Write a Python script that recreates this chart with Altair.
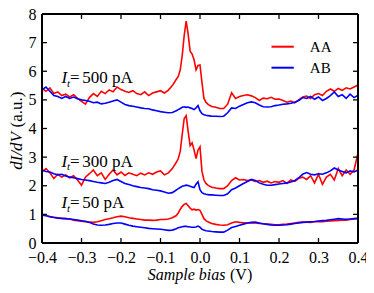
import altair as alt
import pandas as pd

# ---- data ----
bias = [
    -0.40, -0.39, -0.38, -0.37, -0.36, -0.35, -0.34, -0.33, -0.32, -0.31,
    -0.30, -0.29, -0.28, -0.27, -0.26, -0.25, -0.24, -0.23, -0.22, -0.21,
    -0.20, -0.19, -0.18, -0.17, -0.16, -0.15, -0.14, -0.13, -0.12, -0.11,
    -0.10, -0.09, -0.08, -0.07, -0.06,
    -0.055, -0.05, -0.045, -0.04, -0.035, -0.03, -0.025, -0.02, -0.015, -0.01,
    -0.005, 0.0, 0.005, 0.01, 0.015, 0.02, 0.025, 0.03,
    0.04, 0.05, 0.06, 0.07, 0.08, 0.09, 0.10, 0.11, 0.12, 0.13,
    0.14, 0.15, 0.16, 0.17, 0.18, 0.19, 0.20, 0.21, 0.22, 0.23,
    0.24, 0.25, 0.26, 0.27, 0.28, 0.29, 0.30, 0.31, 0.32, 0.33,
    0.34, 0.35, 0.36, 0.37, 0.38, 0.39, 0.40,
]

aa_500 = [
    5.40, 5.30, 5.42, 5.22, 5.28, 5.15, 5.20, 5.10, 5.18, 5.05,
    4.95, 4.85, 5.08, 5.22, 5.12, 5.30, 5.22, 5.35, 5.28, 5.45,
    5.36, 5.30, 5.26, 5.32, 5.22, 5.18, 5.28, 5.15, 5.24, 5.28,
    5.32, 5.24, 5.34, 5.50, 5.72,
    5.82, 6.05, 6.55, 7.25, 7.75, 7.30, 6.70, 6.60, 6.40, 6.05,
    6.20, 6.22, 5.60, 5.05, 4.92, 4.85, 4.80, 4.77,
    4.74, 4.70, 4.70, 4.85, 5.25, 5.05, 5.12, 5.15, 5.18, 5.14,
    5.08, 4.98, 5.06, 5.04, 5.09, 5.02, 5.03, 4.98, 4.92, 4.96,
    4.90, 5.00, 5.10, 5.13, 5.05, 5.18, 5.22, 5.15, 5.30, 5.38,
    5.30, 5.40, 5.33, 5.42, 5.38, 5.45, 5.52,
]
ab_500 = [
    5.35, 5.45, 5.30, 5.15, 5.12, 5.05, 5.12, 5.05, 5.10, 5.04,
    5.00, 4.98, 4.95, 4.90, 4.92, 4.86, 4.88, 4.92, 4.96, 5.00,
    4.92, 4.84, 4.80, 4.78, 4.75, 4.72, 4.70, 4.69, 4.65, 4.62,
    4.59, 4.57, 4.55, 4.56, 4.62,
    4.66, 4.70, 4.74, 4.76, 4.74, 4.75, 4.72, 4.70, 4.66, 4.72,
    4.80, 4.62, 4.52, 4.48, 4.46, 4.45, 4.44, 4.43,
    4.43, 4.42, 4.43, 4.55, 4.72, 4.70, 4.78, 4.84, 4.90, 4.93,
    4.90, 4.82, 4.76, 4.75, 4.76, 4.80, 4.82, 4.85, 4.86, 4.88,
    4.92, 4.98, 5.08, 5.05, 5.12, 5.02, 5.10, 4.98, 5.05, 5.15,
    5.28, 5.12, 5.18, 5.05, 5.20, 5.08, 5.16,
]
aa_300 = [
    2.48, 2.60, 2.45, 2.25, 2.40, 2.30, 2.38, 2.28, 2.35, 2.20,
    2.02, 2.30, 2.42, 2.55, 2.35, 2.45, 2.22, 2.40, 2.55, 2.38,
    2.48, 2.36, 2.45, 2.40, 2.35, 2.44, 2.38, 2.45, 2.40, 2.48,
    2.52, 2.38, 2.45, 2.60, 2.82,
    2.95, 3.20, 3.80, 4.35, 4.45, 3.90, 3.40, 3.50, 3.25, 2.95,
    3.25, 3.36, 2.50, 2.20, 2.08, 2.02, 1.98, 1.95,
    1.92, 1.90, 1.90, 2.00, 2.18, 2.28, 2.20, 2.22, 2.18, 2.20,
    2.15, 2.18, 2.12, 2.16, 2.10, 2.15, 2.12, 2.18, 2.08, 2.20,
    2.15, 2.26, 2.30, 2.22, 2.35, 2.10, 2.40, 2.05, 2.30, 2.40,
    2.20, 2.60, 2.35, 2.55, 2.40, 2.55, 3.15,
]
ab_300 = [
    2.55, 2.50, 2.48, 2.42, 2.38, 2.40, 2.34, 2.30, 2.28, 2.25,
    2.22, 2.20, 2.18, 2.15, 2.12, 2.10, 2.08, 2.12, 2.18, 2.22,
    2.15, 2.08, 2.04, 2.00, 1.97, 1.94, 1.92, 1.90, 1.86, 1.84,
    1.82, 1.78, 1.74, 1.76, 1.85,
    1.90, 1.94, 1.98, 2.00, 2.02, 2.01, 1.98, 1.96, 1.94, 2.05,
    2.14, 1.86, 1.76, 1.72, 1.70, 1.69, 1.68, 1.68,
    1.67, 1.66, 1.66, 1.72, 1.86, 1.92, 2.00, 2.08, 2.15, 2.22,
    2.18, 2.10, 2.05, 2.02, 2.02, 2.04, 2.06, 2.08, 2.10, 2.13,
    2.18, 2.28, 2.40, 2.46, 2.40, 2.38, 2.42, 2.40, 2.45, 2.52,
    2.62, 2.55, 2.50, 2.45, 2.52, 2.48, 2.55,
]
aa_50 = [
    0.97, 0.98, 0.92, 0.90, 0.88, 0.86, 0.85, 0.84, 0.80, 0.78,
    0.76, 0.74, 0.73, 0.72, 0.74, 0.78, 0.82, 0.85, 0.88, 0.92,
    0.94, 0.92, 0.88, 0.86, 0.84, 0.82, 0.80, 0.80, 0.79, 0.80,
    0.82, 0.82, 0.84, 0.88, 0.96,
    1.05, 1.18, 1.28, 1.35, 1.38, 1.30, 1.22, 1.16, 1.18, 1.15,
    1.17, 1.14, 1.00, 0.85, 0.78, 0.74, 0.71, 0.68,
    0.65, 0.63, 0.62, 0.64, 0.70, 0.74, 0.72, 0.71, 0.70, 0.70,
    0.70, 0.68, 0.67, 0.66, 0.65, 0.64, 0.64, 0.65, 0.66, 0.68,
    0.70, 0.72, 0.73, 0.73, 0.72, 0.74, 0.75, 0.74, 0.76, 0.77,
    0.78, 0.79, 0.80, 0.80, 0.82, 0.84, 0.86,
]
ab_50 = [
    0.97, 0.95, 0.92, 0.89, 0.87, 0.86, 0.85, 0.84, 0.82, 0.80,
    0.78, 0.76, 0.72, 0.66, 0.63, 0.62, 0.63, 0.65, 0.68, 0.70,
    0.70, 0.66, 0.62, 0.59, 0.57, 0.55, 0.53, 0.51, 0.50, 0.49,
    0.48, 0.46, 0.44, 0.45, 0.50,
    0.53, 0.55, 0.57, 0.58, 0.58, 0.57, 0.56, 0.55, 0.55, 0.56,
    0.59, 0.55, 0.48, 0.45, 0.43, 0.42, 0.41, 0.40,
    0.39, 0.38, 0.38, 0.45, 0.54, 0.58, 0.62, 0.66, 0.70, 0.72,
    0.73, 0.70, 0.67, 0.65, 0.63, 0.62, 0.62, 0.63, 0.64, 0.66,
    0.68, 0.70, 0.72, 0.73, 0.74, 0.75, 0.77, 0.78, 0.79, 0.81,
    0.83, 0.85, 0.84, 0.83, 0.84, 0.85, 0.86,
]

x_ticks = [-0.4, -0.3, -0.2, -0.1, 0.0, 0.1, 0.2, 0.3, 0.4]
y_ticks = [0, 1, 2, 3, 4, 5, 6, 7, 8]
stackings = ["AA", "AB"]
colors = ["#ff0000", "#0000ff"]
currents = ["500", "300", "50"]

series = [
    ("AA", "500", aa_500), ("AB", "500", ab_500),
    ("AA", "300", aa_300), ("AB", "300", ab_300),
    ("AA", "50", aa_50), ("AB", "50", ab_50),
]
rows = []
for stk, cur, vals in series:
    for b, v in zip(bias, vals):
        rows.append({"bias": b, "value": v, "stacking": stk, "trace": stk + cur})
df = pd.DataFrame(rows)

W, H = 316, 229
SERIF = "Liberation Serif"
FS = 16

xscale = alt.Scale(domain=[-0.4, 0.4], nice=False, zero=False)
yscale = alt.Scale(domain=[0, 8], nice=False)

xaxis = alt.Axis(values=x_ticks, format=".1f", ticks=False, domain=False, grid=False,
                 labelFont=SERIF, labelFontSize=FS, labelColor="black",
                 labelPadding=6, title=None, labelFlush=False)
yaxis = alt.Axis(values=y_ticks, format="d", ticks=False, domain=False, grid=False,
                 labelFont=SERIF, labelFontSize=FS, labelColor="black",
                 labelPadding=6, title=None, labelFlush=False)

lines = alt.Chart(df).mark_line(strokeWidth=1.6, clip=True).encode(
    x=alt.X("bias:Q", scale=xscale, axis=xaxis, title=None),
    y=alt.Y("value:Q", scale=yscale, axis=yaxis, title=None),
    color=alt.Color("stacking:N", scale=alt.Scale(domain=stackings, range=colors), legend=None),
    detail="trace:N",
    order="bias:Q",
)

xt = pd.DataFrame({"t": x_ticks})
yt = pd.DataFrame({"t": y_ticks})
TL = 5
tick_style = dict(color="black", strokeWidth=1.3)
bot = alt.Chart(xt).mark_rule(**tick_style).encode(
    x=alt.X("t:Q", scale=xscale, axis=xaxis, title=None), y=alt.value(H), y2=alt.value(H - TL))
top = alt.Chart(xt).mark_rule(**tick_style).encode(
    x=alt.X("t:Q", scale=xscale, axis=xaxis, title=None), y=alt.value(0), y2=alt.value(TL))
left = alt.Chart(yt).mark_rule(**tick_style).encode(
    y=alt.Y("t:Q", scale=yscale, axis=yaxis, title=None), x=alt.value(0), x2=alt.value(TL))
right = alt.Chart(yt).mark_rule(**tick_style).encode(
    y=alt.Y("t:Q", scale=yscale, axis=yaxis, title=None), x=alt.value(W - TL), x2=alt.value(W))

# frame
fr = dict(color="black", strokeWidth=2)
one = pd.DataFrame({"k": [0]})
frame = [
    alt.Chart(one).mark_rule(**fr).encode(x=alt.value(0), x2=alt.value(W), y=alt.value(0)),
    alt.Chart(one).mark_rule(**fr).encode(x=alt.value(0), x2=alt.value(W), y=alt.value(H)),
    alt.Chart(one).mark_rule(**fr).encode(x=alt.value(0), y=alt.value(0), y2=alt.value(H)),
    alt.Chart(one).mark_rule(**fr).encode(x=alt.value(W), y=alt.value(0), y2=alt.value(H)),
]


def txt(s, x, y, size=FS, style="normal", align="left", angle=0, color="black"):
    return alt.Chart(pd.DataFrame({"s": [s]})).mark_text(
        font=SERIF, fontSize=size, fontStyle=style, align=align, baseline="alphabetic",
        angle=angle, color=color,
    ).encode(text="s:N", x=alt.value(x), y=alt.value(y))


texts = []
# current annotations
for cur, base in zip(currents, [69, 152.5, 194]):
    texts.append(txt("I", 19.5, base, size=17, style="italic"))
    texts.append(txt("t", 25.0, base + 3.5, size=11, style="italic"))
    texts.append(txt("=", 28.0, base, size=17))
    texts.append(txt(cur + " pA", 40.2, base, size=17))

# axis titles
texts.append(txt("Sample bias", 183.5, 265.5, size=16, style="italic", align="right"))
texts.append(txt("(V)", 188.0, 265.5, size=16))
texts.append(txt("dI/dV", -20.5, 118, size=17, style="italic", align="right", angle=270))
texts.append(txt("(a.u.)", -20.5, 113.5, size=17, align="left", angle=270))

# legend
leg = []
for i, (stk, col) in enumerate(zip(stackings, colors)):
    yy = 32.7 + 21 * i
    leg.append(alt.Chart(pd.DataFrame({"s": [stk]})).mark_rule(color=col, strokeWidth=2).encode(
        x=alt.value(229.5), x2=alt.value(251.8), y=alt.value(yy)))
    leg.append(txt(stk, 267.8, yy + 5.6, size=15))

chart = alt.layer(lines, bot, top, left, right, *frame, *texts, *leg).properties(
    width=W, height=H,
    autosize=alt.AutoSizeParams(type="none"),
    padding={"left": 34, "top": 6, "right": 8, "bottom": 41},
).configure_view(stroke=None)

chart.save("out.html", embed_options={"renderer": "svg", "actions": False})
